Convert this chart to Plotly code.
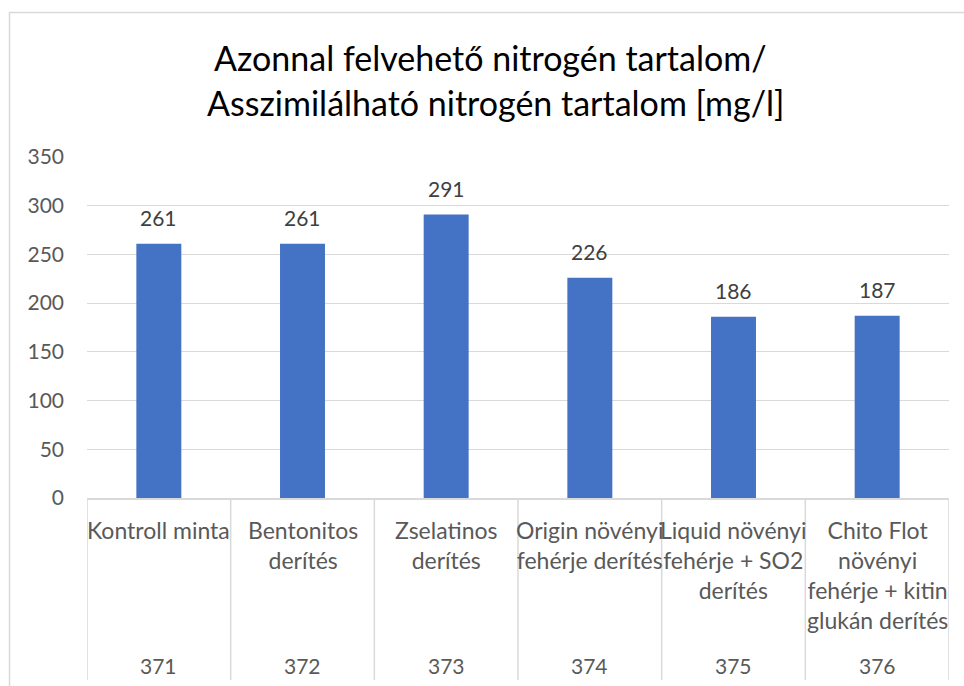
import plotly.graph_objects as go

categories = ["Kontroll minta", "Bentonitos<br>derítés", "Zselatinos<br>derítés",
              "Origin növényi<br>fehérje derítés", "Liquid növényi<br>fehérje + SO2<br>derítés",
              "Chito Flot<br>növényi<br>fehérje + kitin<br>glukán derítés"]
sample_ids = ["371", "372", "373", "374", "375", "376"]
values = [261, 261, 291, 226, 186, 187]
y_ticks = [0, 50, 100, 150, 200, 250, 300, 350]

FONT = "Lato"
GRID = "#D9D9D9"
xs = list(range(len(values)))

# plot area geometry (pixels)
L, R, T, B = 87, 15, 157, 188
W, H = 964, 686
pw, ph = W - L - R, H - T - B

def py(p):
    return (H - B - p) / ph

def px(p):
    return (p - L) / pw

fig = go.Figure()
fig.add_trace(go.Bar(x=xs, y=values, width=0.313, marker=dict(color="#4472C4", line=dict(width=0)),
                     hoverinfo="skip"))

ann = []
for x, v in zip(xs, values):
    ann.append(dict(x=x, y=v, xref="x", yref="y", text=str(v), showarrow=False,
                    yanchor="middle", yshift=26, font=dict(family=FONT, size=21, color="#404040")))
for x, c, s in zip(xs, categories, sample_ids):
    ann.append(dict(x=x, y=py(514), xref="x", yref="paper", text=c, showarrow=False,
                    yanchor="top", align="center", font=dict(family=FONT, size=23, color="#595959")))
    ann.append(dict(x=x, y=py(665), xref="x", yref="paper", text=s, showarrow=False,
                    yanchor="middle", font=dict(family=FONT, size=21, color="#595959")))
ann.append(dict(x=px(490), y=py(57), xref="paper", yref="paper", text="Azonnal felvehető nitrogén tartalom/",
                showarrow=False, yanchor="middle", font=dict(family=FONT, size=34, color="#000000")))
ann.append(dict(x=px(495), y=py(103), xref="paper", yref="paper", text="Asszimilálható nitrogén tartalom [mg/l]",
                showarrow=False, yanchor="middle", font=dict(family=FONT, size=34, color="#000000")))

shapes = []
for i in range(len(values) + 1):
    shapes.append(dict(type="line", xref="x", yref="paper", x0=i - 0.5, x1=i - 0.5,
                       y0=0, y1=py(680), line=dict(color=GRID, width=1.5)))
shapes.append(dict(type="rect", xref="paper", yref="paper", x0=px(9.5), x1=px(1000),
                   y0=py(720), y1=py(12.5), line=dict(color=GRID, width=1.5), layer="below"))

fig.update_layout(
    width=W, height=H,
    margin=dict(l=L, r=R, t=T, b=B),
    paper_bgcolor="white", plot_bgcolor="white",
    showlegend=False,
    xaxis=dict(range=[-0.5, len(values) - 0.5], showticklabels=False, showgrid=False, zeroline=False,
               showline=True, linecolor=GRID, linewidth=1.5, ticks="", fixedrange=True),
    yaxis=dict(range=[0, 350], tickvals=y_ticks, showgrid=True, gridcolor=GRID, gridwidth=1.3,
               zeroline=False, showline=False, ticks="", ticklabelstandoff=22,
               tickfont=dict(family=FONT, size=21, color="#595959")),
    annotations=ann, shapes=shapes,
)

fig.write_html("out.html", config={"displayModeBar": False},
               post_script="document.body.style.margin='0';document.body.style.overflow='hidden';")
